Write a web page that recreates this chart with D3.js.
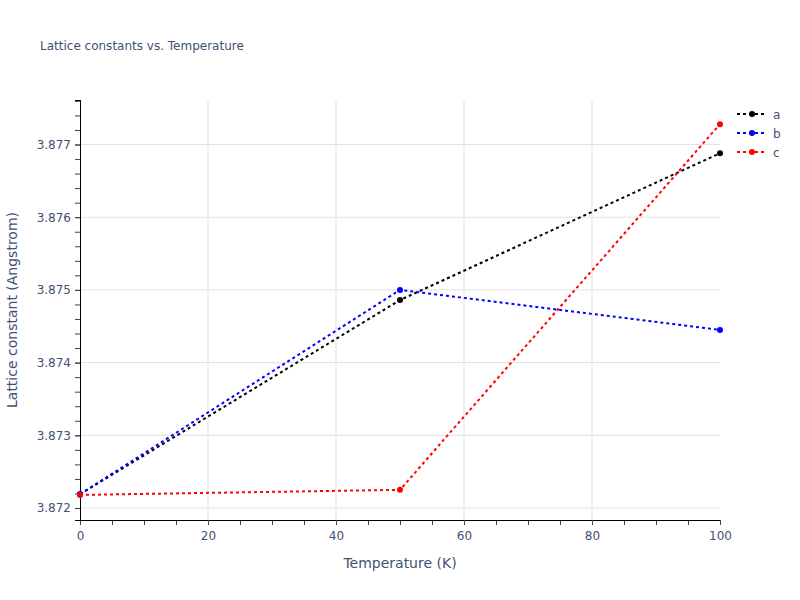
<!DOCTYPE html>
<html>
<head>
<meta charset="utf-8">
<script src="https://cdn.jsdelivr.net/npm/d3@7"></script>
<style>
  body { margin: 0; background: #fff; }
  text { font-family: "DejaVu Sans", verdana, arial, sans-serif; fill: #3f5275; }
</style>
</head>
<body>
<div class="chart"></div>
<script>
// Data
var temperatures = [0, 50, 100];
var seriesNames = ["a", "b", "c"];
var seriesA = [3.87219, 3.87486, 3.87688];
var seriesB = [3.87219, 3.87500, 3.87445];
var seriesC = [3.87218, 3.87225, 3.87728];
var xTicks = [0, 20, 40, 60, 80, 100];
var yTicks = [3.872, 3.873, 3.874, 3.875, 3.876, 3.877];

var colors = ["#000000", "#0000ff", "#ff0000"];
var allSeries = [seriesA, seriesB, seriesC];

var svgWidth = 800;
var svgHeight = 600;
var margin = { top: 100, right: 80, bottom: 80, left: 80 };
var width = svgWidth - margin.left - margin.right;
var height = svgHeight - margin.top - margin.bottom;

var svg = d3.select(".chart")
  .append("svg")
  .attr("width", svgWidth)
  .attr("height", svgHeight);

var chartGroup = svg.append("g")
  .attr("transform", `translate(${margin.left}, ${margin.top})`);

var xScale = d3.scaleLinear().domain([0, 100]).range([0, width]);
var yScale = d3.scaleLinear().domain([3.871835, 3.877612]).range([height, 0]);

// gridlines
chartGroup.selectAll(".xgrid")
  .data(xTicks.filter(d => d > 0 && d < 100))
  .enter().append("line")
  .attr("x1", d => xScale(d)).attr("x2", d => xScale(d))
  .attr("y1", 0).attr("y2", height)
  .attr("stroke", "#e1e1e1").attr("stroke-width", 1);

chartGroup.selectAll(".ygrid")
  .data(yTicks)
  .enter().append("line")
  .attr("x1", 0).attr("x2", width)
  .attr("y1", d => yScale(d)).attr("y2", d => yScale(d))
  .attr("stroke", "#e1e1e1").attr("stroke-width", 1);

// minor ticks
var xMinor = d3.range(0, 100.1, 5);
var yMinor = d3.range(3.8720, 3.87761, 0.0002);

var bottomAxis = d3.axisBottom(xScale).tickValues(xTicks).tickSize(5).tickPadding(6);
var leftAxis = d3.axisLeft(yScale).tickValues(yTicks).tickFormat(d3.format(".3f")).tickSize(5).tickPadding(4);

var xMinorAxis = chartGroup.append("g")
  .attr("transform", `translate(0, ${height})`)
  .call(d3.axisBottom(xScale).tickValues(xMinor).tickSize(5).tickFormat(""));
var yMinorAxis = chartGroup.append("g")
  .call(d3.axisLeft(yScale).tickValues(yMinor).tickSize(5).tickFormat(""));

var xAxisG = chartGroup.append("g")
  .attr("transform", `translate(0, ${height})`)
  .call(bottomAxis);
var yAxisG = chartGroup.append("g")
  .call(leftAxis);

[xMinorAxis, yMinorAxis, xAxisG, yAxisG].forEach(function (g) {
  g.select(".domain").attr("stroke", "#000").attr("stroke-width", 1);
  g.selectAll(".tick line").attr("stroke", "#444");
  g.selectAll(".tick text")
    .style("font-size", "12px")
    .style("fill", "#3f5275")
    .style("font-family", "'DejaVu Sans', verdana, arial, sans-serif");
});

// lines and markers
var line = d3.line()
  .x((d, i) => xScale(temperatures[i]))
  .y(d => yScale(d));

allSeries.forEach(function (values, s) {
  chartGroup.append("path")
    .datum(values)
    .attr("d", line)
    .attr("fill", "none")
    .attr("stroke", colors[s])
    .attr("stroke-width", 2)
    .attr("stroke-dasharray", "3,3");

  chartGroup.selectAll(".pt" + s)
    .data(values)
    .enter().append("circle")
    .attr("cx", (d, i) => xScale(temperatures[i]))
    .attr("cy", d => yScale(d))
    .attr("r", 3)
    .attr("fill", colors[s]);
});

// title
svg.append("text")
  .attr("x", 40).attr("y", 50)
  .style("font-size", "12px")
  .text("Lattice constants vs. Temperature");

// axis titles
svg.append("text")
  .attr("x", margin.left + width / 2).attr("y", 568)
  .attr("text-anchor", "middle")
  .style("font-size", "14px")
  .text("Temperature (K)");

svg.append("text")
  .attr("transform", `translate(17, ${margin.top + height / 2}) rotate(-90)`)
  .attr("text-anchor", "middle")
  .style("font-size", "14px")
  .text("Lattice constant (Angstrom)");

// legend
var legend = svg.append("g").attr("transform", "translate(737, 114)");
seriesNames.forEach(function (name, s) {
  var g = legend.append("g").attr("transform", `translate(0, ${s * 19})`);
  g.append("line")
    .attr("x1", 0).attr("x2", 30)
    .attr("stroke", colors[s]).attr("stroke-width", 2)
    .attr("stroke-dasharray", "3,3");
  g.append("circle").attr("cx", 15).attr("r", 3).attr("fill", colors[s]);
  g.append("text")
    .attr("x", 36).attr("y", 4.5)
    .style("font-size", "12px")
    .text(name);
});
</script>
</body>
</html>
